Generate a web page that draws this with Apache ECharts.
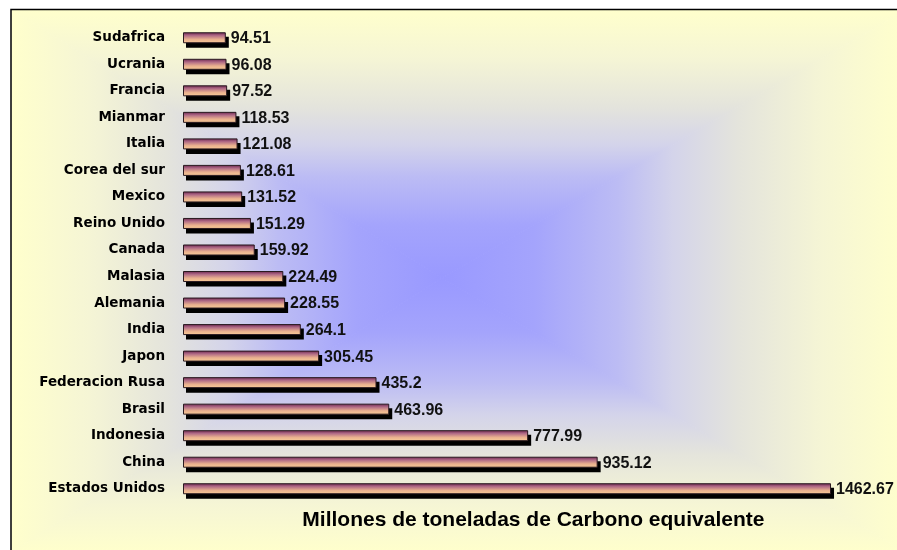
<!DOCTYPE html>
<html>
<head>
<meta charset="utf-8">
<script src="https://cdn.jsdelivr.net/npm/echarts@6/dist/echarts.min.js"></script>
<style>
  html, body { margin: 0; padding: 0; background: #fff; }
  #main { width: 897px; height: 550px; }
</style>
</head>
<body>
<div id="main"></div>
<script>
// paises, de arriba hacia abajo
var paises = ['Sudafrica', 'Ucrania', 'Francia', 'Mianmar', 'Italia', 'Corea del sur', 'Mexico',
  'Reino Unido', 'Canada', 'Malasia', 'Alemania', 'India', 'Japon', 'Federacion Rusa', 'Brasil',
  'Indonesia', 'China', 'Estados Unidos'];
var emisiones = [94.51, 96.08, 97.52, 118.53, 121.08, 128.61, 131.52, 151.29, 159.92, 224.49,
  228.55, 264.1, 305.45, 435.2, 463.96, 777.99, 935.12, 1462.67];
var tituloEje = 'Millones de toneladas de Carbono equivalente';

var chart = echarts.init(document.getElementById('main'), null, { renderer: 'canvas' });

// fondo: degradado rectangular (4 triangulos hacia el centro)
var L = 12, T = 10, R = 905, B = 552, cx = 442, cy = 278;
var stopsFondo = [
  { offset: 0, color: '#FFFFCC' },
  { offset: 0.18, color: '#F5F5D5' },
  { offset: 0.36, color: '#E4E4DC' },
  { offset: 0.5, color: '#D4D4EA' },
  { offset: 0.62, color: '#BCBCF4' },
  { offset: 0.8, color: '#A4A4FC' },
  { offset: 1, color: '#9999FF' }
];
function tri(points, x, y, x2, y2) {
  var g = new echarts.graphic.LinearGradient(x, y, x2, y2, stopsFondo);
  return {
    type: 'polygon',
    z: -10,
    silent: true,
    shape: { points: points },
    style: { fill: g, stroke: g, lineWidth: 1 }
  };
}

var degradadoBarra = new echarts.graphic.LinearGradient(0, 0, 0, 1, [
  { offset: 0, color: '#66224C' },
  { offset: 0.3, color: '#B06A86' },
  { offset: 0.65, color: '#E9B08E' },
  { offset: 1, color: '#F8CC98' }
]);

function dibujarBarra(params, api) {
  var ini = api.coord([0, api.value(1)]);
  var fin = api.coord([api.value(0), api.value(1)]);
  var h = 11;
  var x = ini[0], y = ini[1] - h / 2, w = fin[0] - ini[0];
  return {
    type: 'group',
    children: [
      { type: 'rect', shape: { x: x + 3, y: y + 4.5, width: w + 1, height: h }, style: { fill: '#000' } },
      { type: 'rect', shape: { x: x + 0.5, y: y + 0.5, width: w, height: h - 1 },
        style: { fill: degradadoBarra, stroke: '#2a1a20', lineWidth: 1 } },
      { type: 'text', style: {
          text: String(api.value(0)), x: fin[0] + 6, y: ini[1] + 1,
          verticalAlign: 'middle', align: 'left',
          font: 'bold 16px "Liberation Sans"', fill: '#111' } }
    ]
  };
}

var option = {
  animation: false,
  graphic: [
    tri([[L, T], [R, T], [cx, cy]], 0, 0, 0, 1),
    tri([[L, B], [R, B], [cx, cy]], 0, 1, 0, 0),
    tri([[L, T], [L, B], [cx, cy]], 0, 0, 1, 0),
    tri([[R, T], [R, B], [cx, cy]], 1, 0, 0, 0),
    {
      type: 'rect',
      z: -5,
      silent: true,
      shape: { x: 11, y: 9.5, width: 900, height: 560 },
      style: { fill: null, stroke: '#000', lineWidth: 1.5 }
    }
  ],
  grid: { left: 183, top: 24.5, width: 700.7, height: 477.5, containLabel: false },
  xAxis: {
    type: 'value',
    min: 0,
    max: 1584,
    name: tituloEje,
    nameLocation: 'middle',
    nameGap: 8,
    nameTextStyle: { fontFamily: 'Liberation Sans', fontWeight: 'bold', fontSize: 21, color: '#000',
      verticalAlign: 'top' },
    axisLine: { show: false },
    axisTick: { show: false },
    axisLabel: { show: false },
    splitLine: { show: false }
  },
  yAxis: {
    type: 'category',
    inverse: true,
    data: paises,
    axisLine: { show: false },
    axisTick: { show: false },
    axisLabel: {
      margin: 18,
      fontFamily: 'DejaVu Sans',
      fontWeight: 'bold',
      fontSize: 13.5,
      color: '#000'
    }
  },
  series: [{
    type: 'custom',
    renderItem: dibujarBarra,
    encode: { x: 0, y: 1 },
    data: emisiones.map(function (v, i) { return [v, i]; })
  }]
};
chart.setOption(option);
</script>
</body>
</html>
